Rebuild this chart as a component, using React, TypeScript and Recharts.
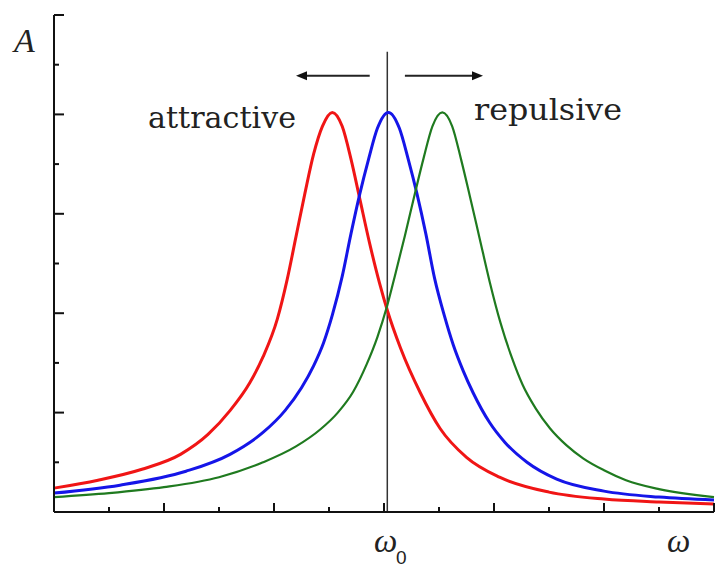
import React from 'react';
import { LineChart, Line, XAxis, YAxis, ReferenceLine } from 'recharts';

// frequency (omega) and amplitude samples for each resonance curve
const omegaRed = [0, 0.4, 0.8, 1.15, 1.4, 1.6, 1.78, 1.9, 2.03, 2.12, 2.2, 2.28, 2.36, 2.44, 2.53, 2.62, 2.7, 2.78, 2.87, 2.96, 3.03, 3.15, 3.33, 3.51, 3.75, 4.05, 4.5, 5.0, 5.5, 6.0];
const ampRed = [0.24, 0.32, 0.43, 0.58, 0.78, 1.02, 1.3, 1.56, 1.94, 2.34, 2.77, 3.2, 3.6, 3.88, 4.02, 3.88, 3.55, 3.15, 2.7, 2.3, 2.03, 1.65, 1.2, 0.84, 0.55, 0.35, 0.2, 0.13, 0.1, 0.08];

const omegaBlue = [0, 0.6, 1.2, 1.6, 1.9, 2.1, 2.25, 2.36, 2.45, 2.53, 2.62, 2.7, 2.78, 2.86, 2.94, 3.04, 3.14, 3.22, 3.3, 3.38, 3.46, 3.55, 3.63, 3.72, 3.81, 3.96, 4.1, 4.3, 4.57, 5.0, 5.5, 6.0];
const ampBlue = [0.19, 0.27, 0.41, 0.58, 0.8, 1.02, 1.25, 1.47, 1.7, 1.98, 2.37, 2.8, 3.2, 3.55, 3.86, 4.02, 3.86, 3.55, 3.2, 2.8, 2.35, 1.97, 1.68, 1.42, 1.2, 0.9, 0.7, 0.5, 0.33, 0.21, 0.15, 0.12];

const omegaGreen = [0, 0.5, 1.0, 1.5, 1.9, 2.2, 2.42, 2.58, 2.72, 2.84, 2.94, 3.03, 3.1, 3.19, 3.28, 3.36, 3.44, 3.53, 3.62, 3.7, 3.78, 3.87, 3.96, 4.06, 4.16, 4.26, 4.38, 4.51, 4.66, 4.81, 5.0, 5.2, 5.5, 6.0];
const ampGreen = [0.15, 0.19, 0.25, 0.35, 0.5, 0.66, 0.83, 1.0, 1.21, 1.48, 1.76, 2.08, 2.38, 2.78, 3.2, 3.56, 3.88, 4.02, 3.88, 3.55, 3.18, 2.75, 2.32, 1.9, 1.56, 1.28, 1.04, 0.84, 0.67, 0.54, 0.42, 0.32, 0.23, 0.15];

const xTicks = [0, 0.5, 1, 1.5, 2, 2.5, 3, 3.5, 4, 4.5, 5, 5.5, 6];
const yTicks = [0, 0.5, 1, 1.5, 2, 2.5, 3, 3.5, 4, 4.5, 5];

const omega0 = 3.03;
// shift arrows: [from, to] on the omega axis, at amplitude arrowLevel
const arrowLeft = [2.87, 2.2];
const arrowRight = [3.19, 3.9];
const arrowLevel = 4.39;
const markerTop = 4.63;

const toRows = (xs: number[], ys: number[]) => xs.map((w, i) => ({ w, a: ys[i] }));
const redRows = toRows(omegaRed, ampRed);
const blueRows = toRows(omegaBlue, ampBlue);
const greenRows = toRows(omegaGreen, ampGreen);

const isMajor = (v: number) => Number.isInteger(v);

// ticks drawn inward from the axis line
const XTick = (props: any) => {
  const { x, y, payload } = props;
  const len = isMajor(payload.value) ? 9 : 5;
  return <line x1={x} y1={y} x2={x} y2={y - len} stroke="#111" strokeWidth={2} />;
};
const YTick = (props: any) => {
  const { x, y, payload } = props;
  const len = isMajor(payload.value) ? 10 : 5;
  return <line x1={x} y1={y} x2={x + len} y2={y} stroke="#111" strokeWidth={2} />;
};

const Arrow = (props: any) => {
  const { x1, y1, x2, y2 } = props;
  const dir = x2 > x1 ? 1 : -1;
  const baseX = x2 - dir * 11;
  return (
    <g>
      <line x1={x1} y1={y1} x2={baseX} y2={y2} stroke="#222" strokeWidth={2} />
      <polygon points={`${x2},${y2} ${baseX},${y2 - 4.5} ${baseX},${y2 + 4.5}`} fill="#111" />
    </g>
  );
};

const serif = '"Liberation Serif", "Times New Roman", serif';
const wideSerif = '"DejaVu Serif", "Liberation Serif", serif';

export default function App() {
  return (
    <div style={{ position: 'absolute', left: 0, top: 0, background: '#fff' }}>
      <LineChart width={715} height={568} margin={{ top: 15, right: 1, bottom: 0, left: 0 }}>
        <XAxis
          type="number"
          dataKey="w"
          domain={[0, 6]}
          ticks={xTicks}
          interval={0}
          height={56}
          tickSize={0}
          tickMargin={0}
          tickLine={false}
          tick={<XTick />}
          axisLine={{ stroke: '#111', strokeWidth: 2 }}
        />
        <YAxis
          type="number"
          domain={[0, 5]}
          ticks={yTicks}
          interval={0}
          width={54}
          tickSize={0}
          tickMargin={0}
          tickLine={false}
          tick={<YTick />}
          axisLine={{ stroke: '#111', strokeWidth: 2 }}
        />
        <ReferenceLine
          segment={[{ x: omega0, y: 0 }, { x: omega0, y: markerTop }]}
          stroke="#333"
          strokeWidth={1.5}
          ifOverflow="visible"
        />
        <ReferenceLine
          segment={[{ x: arrowLeft[0], y: arrowLevel }, { x: arrowLeft[1], y: arrowLevel }]}
          shape={<Arrow />}
          ifOverflow="visible"
        />
        <ReferenceLine
          segment={[{ x: arrowRight[0], y: arrowLevel }, { x: arrowRight[1], y: arrowLevel }]}
          shape={<Arrow />}
          ifOverflow="visible"
        />
        <Line data={redRows} dataKey="a" type="monotone" stroke="#f01515" strokeWidth={3} dot={false} isAnimationActive={false} />
        <Line data={blueRows} dataKey="a" type="monotone" stroke="#1515e8" strokeWidth={3} dot={false} isAnimationActive={false} />
        <Line data={greenRows} dataKey="a" type="monotone" stroke="#1f7a1f" strokeWidth={2.2} dot={false} isAnimationActive={false} />
        <text x={14} y={52} fontFamily={serif} fontStyle="italic" fontSize={34} fill="#222">A</text>
        <text x={148} y={128} fontFamily={wideSerif} fontSize={30} fill="#222" textLength={148} lengthAdjust="spacingAndGlyphs">attractive</text>
        <text x={474} y={120} fontFamily={wideSerif} fontSize={30} fill="#222" textLength={148} lengthAdjust="spacingAndGlyphs">repulsive</text>
        <text x={374} y={552} fontFamily={serif} fontStyle="italic" fontSize={33} fill="#222">ω</text>
        <text x={396} y={564} fontFamily='"Liberation Sans", Arial, sans-serif' fontSize={19} fill="#222">0</text>
        <text x={667} y={552} fontFamily={serif} fontStyle="italic" fontSize={33} fill="#222">ω</text>
      </LineChart>
    </div>
  );
}
